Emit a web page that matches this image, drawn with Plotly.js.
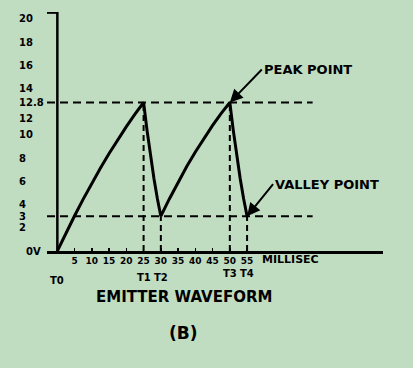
<!DOCTYPE html>
<html>
<head>
<meta charset="utf-8">
<script src="https://cdn.plot.ly/plotly-3.0.1.min.js"></script>
<style>html,body{margin:0;padding:0;background:#c1ddc1;}#chart{width:413px;height:368px;}</style>
</head>
<body>
<div id="chart"></div>
<script>
// Emitter waveform (milliseconds vs volts)
const timeMs = [0, 2.5, 5, 7.5, 10, 12.5, 15, 17.5, 20, 22.5, 25,
                26, 27, 28, 29, 30,
                32.5, 35, 37.5, 40, 42.5, 45, 47.5, 50,
                51, 52, 53, 54, 55];
const voltage = [0, 1.55, 3.04, 4.47, 5.84, 7.15, 8.4, 9.59, 10.72, 11.79, 12.8,
                 10.4, 8.2, 6.25, 4.5, 3,
                 4.51, 5.93, 7.28, 8.54, 9.73, 10.83, 11.86, 12.8,
                 10.4, 8.2, 6.25, 4.5, 3];
const peakV = 12.8;
const valleyV = 3;
const tMarks = [0, 25, 30, 50, 55];
const tLabels = ['T0', 'T1', 'T2', 'T3', 'T4'];
const xTickVals = [5, 10, 15, 20, 25, 30, 35, 40, 45, 50, 55];
const xTickText = ['5', '10', '15', '20', '25', '30', '35', '40', '45', '50', '55'];
const yTickVals = [0, 2, 3, 4, 6, 8, 10, 12, 12.8, 14, 16, 18, 20];
const yTickText = ['0V', '2', '3', '4', '6', '8', '10', '12', '12.8', '14', '16', '18', '20'];

const F = 'DejaVu Sans, sans-serif';
const ink = '#000';
const L = 47, T = 12, W = 336, H = 239;           // plot box in pixels
const px = p => (p - L) / W;                        // pixel -> paper x
const py = p => (T + H - p) / H;                    // pixel -> paper y

const shapes = [];
// y axis line and top tick
shapes.push({type: 'line', xref: 'x', yref: 'y', x0: 0, x1: 0, y0: 0, y1: 20.6, line: {color: ink, width: 2.5}});
shapes.push({type: 'line', xref: 'x', yref: 'y', x0: -3.2, x1: 0, y0: 20.55, y1: 20.55, line: {color: ink, width: 2.5}});
// horizontal dashed reference lines
[peakV, valleyV].forEach(v => shapes.push({type: 'line', xref: 'x', yref: 'y', x0: -3, x1: 74, y0: v, y1: v,
  line: {color: ink, width: 2, dash: '8px,5px'}}));
// vertical dashed lines at T1..T4
tMarks.slice(1).forEach((t, i) => shapes.push({type: 'line', xref: 'x', yref: 'y', x0: t, x1: t, y0: 0,
  y1: (i % 2 === 0) ? peakV : valleyV, line: {color: ink, width: 2, dash: '6px,4px'}}));

const annotations = [];
// y tick labels (left aligned like the hand lettering)
yTickVals.forEach((v, i) => {
  const isZero = v === 0;
  annotations.push({x: isZero ? px(43) : px(17), y: v, xref: 'paper', yref: 'y', text: yTickText[i],
    showarrow: false, xanchor: isZero ? 'right' : 'left', yanchor: 'middle',
    yshift: (v === 12) ? -7 : 0,
    font: {family: F, size: 10, color: ink, weight: 'bold'}});
});
const tLabelPix = [280, 277, 277, 273, 273];
tMarks.forEach((t, i) => annotations.push({x: t, y: py(tLabelPix[i]), xref: 'x', yref: 'paper', text: tLabels[i],
  showarrow: false, xanchor: 'center', yanchor: 'middle', font: {family: F, size: 10, color: ink, weight: 'bold'}}));
annotations.push({x: px(290), y: py(259), xref: 'paper', yref: 'paper', text: 'MILLISEC', showarrow: false,
  xanchor: 'center', yanchor: 'middle', font: {family: F, size: 11, color: ink, weight: 'bold'}});
annotations.push({x: 50, y: peakV, xref: 'x', yref: 'y', text: 'PEAK POINT', showarrow: true,
  ax: 32, ay: -33, xanchor: 'left', yanchor: 'middle', arrowhead: 2, arrowsize: 1.3, arrowwidth: 2, arrowcolor: ink,
  font: {family: F, size: 13, color: ink, weight: 'bold'}});
annotations.push({x: 55, y: valleyV, xref: 'x', yref: 'y', text: 'VALLEY POINT', showarrow: true,
  ax: 26, ay: -32, xanchor: 'left', yanchor: 'middle', arrowhead: 2, arrowsize: 1.3, arrowwidth: 2, arrowcolor: ink,
  font: {family: F, size: 13, color: ink, weight: 'bold'}});
annotations.push({x: px(184), y: py(297), xref: 'paper', yref: 'paper', text: 'EMITTER WAVEFORM', showarrow: false,
  xanchor: 'center', yanchor: 'middle', font: {family: F, size: 15, color: ink, weight: 'bold'}});
annotations.push({x: px(183), y: py(333), xref: 'paper', yref: 'paper', text: '(B)', showarrow: false,
  xanchor: 'center', yanchor: 'middle', font: {family: F, size: 17, color: ink, weight: 'bold'}});

const trace = {x: timeMs, y: voltage, type: 'scatter', mode: 'lines',
  line: {color: ink, width: 3, shape: 'linear'}, hoverinfo: 'skip'};

const layout = {
  width: 413, height: 368,
  margin: {l: L, r: 413 - L - W, t: T, b: 368 - T - H},
  paper_bgcolor: '#c1ddc1', plot_bgcolor: '#c1ddc1',
  showlegend: false,
  xaxis: {range: [-3, 94.4], tickvals: xTickVals, ticktext: xTickText, showgrid: false, zeroline: false,
    showline: true, linecolor: ink, linewidth: 2.5, ticks: 'inside', ticklen: 3, tickwidth: 1.5, tickcolor: ink,
    tickfont: {family: F, size: 9, color: ink, weight: 'bold'}, fixedrange: true},
  yaxis: {range: [0, 20.6], showgrid: false, zeroline: false, showline: false, ticks: '',
    showticklabels: false, fixedrange: true},
  shapes: shapes,
  annotations: annotations
};

Plotly.newPlot('chart', [trace], layout, {displayModeBar: false, staticPlot: true});
</script>
</body>
</html>
